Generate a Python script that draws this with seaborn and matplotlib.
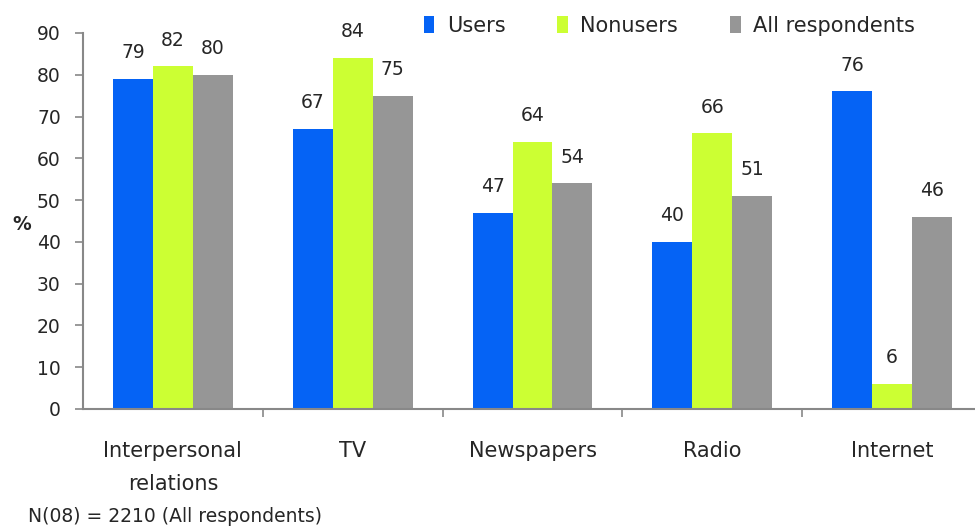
import matplotlib
matplotlib.use("Agg")
import matplotlib.pyplot as plt
import seaborn as sns
import pandas as pd
from matplotlib.patches import Patch

# Sources of information, by group (%)
categories = ["Interpersonal\nrelations", "TV", "Newspapers", "Radio", "Internet"]
groups = ["Users", "Nonusers", "All respondents"]
users = [79, 67, 47, 40, 76]
nonusers = [82, 84, 64, 66, 6]
all_respondents = [80, 75, 54, 51, 46]
colors = ["#0563F5", "#CCFF33", "#969696"]
y_ticks = [0, 10, 20, 30, 40, 50, 60, 70, 80, 90]
footnote = "N(08) = 2210 (All respondents)"

df = pd.DataFrame({
    "category": categories * 3,
    "group": [groups[0]] * 5 + [groups[1]] * 5 + [groups[2]] * 5,
    "value": users + nonusers + all_respondents,
})

sns.set_theme(style="white")
plt.rcParams["font.family"] = ["DejaVu Sans"]
text_color = "#262626"
num_fs = 13.5
label_fs = 15

fig = plt.figure(figsize=(9.75, 5.31), dpi=100)
ax = fig.add_axes([83 / 975, 1 - 409 / 531, (982 - 83) / 975, (409 - 33) / 531])

sns.barplot(data=df, x="category", y="value", hue="group", order=categories,
            hue_order=groups, palette=colors, width=2 / 3, gap=0,
            saturation=1, ax=ax, legend=False, errorbar=None, linewidth=0)

for container in ax.containers:
    for bar in container:
        h = bar.get_height()
        ax.annotate(f"{h:.0f}", (bar.get_x() + bar.get_width() / 2, h),
                    xytext=(0, 12), textcoords="offset points",
                    ha="center", va="bottom", fontsize=num_fs, color=text_color)

ax.set_ylim(0, 90)
ax.set_xlim(-0.5, 4.5)
ax.set_yticks(y_ticks)
ax.set_yticklabels([str(t) for t in y_ticks], fontsize=num_fs, color=text_color)
ax.set_xticks(range(len(categories)))
ax.set_xticklabels(categories, fontsize=label_fs, color=text_color,
                   linespacing=1.8)
ax.set_xticks([0.5, 1.5, 2.5, 3.5], minor=True)
ax.tick_params(axis="x", which="major", length=0, pad=23)
ax.tick_params(axis="x", which="minor", length=6, width=1.2, color="#888888",
               direction="out", bottom=True)
ax.tick_params(axis="y", length=6, width=1.2, color="#888888", direction="out",
               left=True, pad=10)
ax.set_xlabel("")
ax.set_ylabel("")
fig.text(22 / 975, 1 - 225 / 531, "%", fontsize=num_fs, fontweight="bold",
         color=text_color, ha="center", va="center")

for side in ["top", "right"]:
    ax.spines[side].set_visible(False)
for side in ["left", "bottom"]:
    ax.spines[side].set_color("#888888")
    ax.spines[side].set_linewidth(1.5)

handles = [Patch(facecolor=c, edgecolor="none") for c in colors]
fig.legend(handles, groups, loc="upper left", ncol=3, frameon=False,
           bbox_to_anchor=(405 / 975, 1 + 3 / 531), fontsize=label_fs,
           handlelength=0.5, handleheight=0.85, handletextpad=0.6,
           columnspacing=2.5, labelcolor=text_color)

fig.text(28 / 975, 1 - 517 / 531, footnote, fontsize=num_fs, color=text_color,
         ha="left", va="center")

fig.savefig("out.png", dpi=100)
